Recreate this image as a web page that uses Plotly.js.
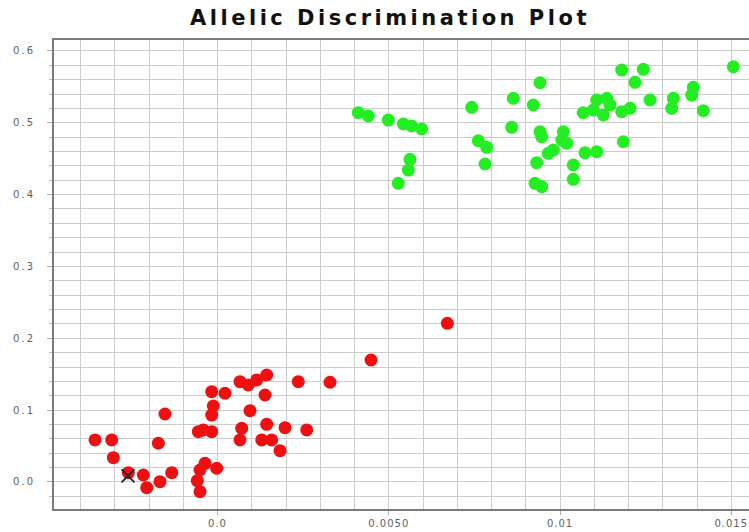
<!DOCTYPE html>
<html>
<head>
<meta charset="utf-8">
<script src="https://cdn.plot.ly/plotly-3.0.1.min.js"></script>
<style>
  html, body { margin: 0; padding: 0; overflow: hidden; background: #ffffff; }
  #chart { width: 772px; height: 532px; }
  .gtitle { letter-spacing: 3.5px; }
  .ytick text { letter-spacing: 2px; }
  .xtick text { letter-spacing: 1px; }
</style>
</head>
<body>
<div id="chart"></div>
<script>
// Allele 1 (red) cluster
const redX = [-0.003577, -0.003089, -0.003042, -0.002604, -0.002166, -0.002067, -0.001679, -0.001337,
  -0.001728, -0.001533, -0.000511, -0.000590, -0.000511, -0.000365, -0.000023, -0.000561, -0.000169,
  -0.000415, -0.000169, -0.000123, -0.000169, 0.000219, 0.000657, 0.000899, 0.001145, 0.001436,
  0.001387, 0.000949, 0.000707, 0.000657, 0.001436, 0.001291, 0.001582, 0.001825, 0.001971,
  0.002604, 0.002359, 0.003285, 0.004482, 0.006710];
const redY = [0.0585, 0.0585, 0.0338, 0.0129, 0.0097, -0.0079, 0.0004, 0.0129,
  0.0539, 0.0946, -0.0135, 0.0018, 0.0167, 0.0260, 0.0191, 0.0700, 0.0700,
  0.0724, 0.0932, 0.1058, 0.1257, 0.1235, 0.1396, 0.1350, 0.1420, 0.1489,
  0.1211, 0.0992, 0.0747, 0.0585, 0.0803, 0.0585, 0.0585, 0.0436, 0.0756,
  0.0724, 0.1396, 0.1388, 0.1698, 0.2209];

// Allele 2 (green) cluster
const greenX = [0.004111, 0.004403, 0.004987, 0.005425, 0.005670, 0.005962, 0.005620, 0.005571,
  0.005279, 0.007422, 0.007615, 0.007860, 0.007810, 0.008636, 0.009220, 0.008590, 0.009416,
  0.009416, 0.009466, 0.010096, 0.010050, 0.010196, 0.009804, 0.009658, 0.009320, 0.009270,
  0.009466, 0.010388, 0.010388, 0.010730, 0.011071, 0.010680, 0.010972, 0.011264, 0.011071,
  0.011364, 0.011460, 0.011801, 0.012044, 0.011848, 0.011801, 0.012432, 0.012190, 0.012628,
  0.013308, 0.013261, 0.013892, 0.013845, 0.014184, 0.015060];
const greenY = [0.5140, 0.5094, 0.5038, 0.4983, 0.4955, 0.4913, 0.4491, 0.4342,
  0.4157, 0.5215, 0.4750, 0.4658, 0.4426, 0.5340, 0.5247, 0.4937, 0.5557,
  0.4875, 0.4806, 0.4875, 0.4760, 0.4714, 0.4621, 0.4575, 0.4444, 0.4157,
  0.4110, 0.4412, 0.4213, 0.4583, 0.4597, 0.5140, 0.5177, 0.5108, 0.5317,
  0.5340, 0.5247, 0.5154, 0.5201, 0.4736, 0.5734, 0.5744, 0.5563, 0.5317,
  0.5340, 0.5201, 0.5493, 0.5386, 0.5168, 0.5780];

// No-template control
const ntcX = [-0.002613];
const ntcY = [0.0084];

// Axis ticks
const xTickVals = [0, 0.005, 0.01, 0.015];
const xTickText = ["0.0", "0.0050", "0.01", "0.015"];
const yTickVals = [0, 0.1, 0.2, 0.3, 0.4, 0.5, 0.6];
const yTickText = ["0.0", "0.1", "0.2", "0.3", "0.4", "0.5", "0.6"];

const traces = [
  { type: 'scatter', mode: 'markers', x: redX, y: redY,
    marker: { color: '#ee1010', size: 13, line: { width: 0 } }, hoverinfo: 'x+y' },
  { type: 'scatter', mode: 'markers', x: greenX, y: greenY,
    marker: { color: '#22ee22', size: 13, line: { width: 0 } }, hoverinfo: 'x+y' },
  { type: 'scatter', mode: 'markers', x: ntcX, y: ntcY,
    marker: { symbol: 'x-thin-open', color: '#222222', size: 13, line: { width: 1.8, color: '#222222' } } }
];

const gridCol = '#cccccc';
const layout = {
  width: 772, height: 532,
  margin: { l: 54, r: 2, t: 40, b: 23 },
  paper_bgcolor: '#ffffff', plot_bgcolor: '#ffffff',
  showlegend: false,
  title: {
    text: 'Allelic Discrimination Plot',
    font: { family: 'DejaVu Sans', size: 21, color: '#111111', weight: 'bold' },
    x: 390 / 772, xref: 'container', xanchor: 'center',
    y: 1 - 18 / 532, yref: 'container', yanchor: 'middle'
  },
  xaxis: {
    range: [-0.004774, 0.016131],
    tickmode: 'array', tickvals: xTickVals, ticktext: xTickText,
    ticks: 'outside', ticklen: 4, tickcolor: '#aaaaaa',
    showgrid: true, gridcolor: gridCol, gridwidth: 1,
    minor: { dtick: 0.001, tick0: 0, showgrid: true, gridcolor: gridCol, gridwidth: 1 },
    showline: true, linecolor: '#7a7a7a', linewidth: 2, mirror: true,
    zeroline: false,
    tickfont: { family: 'DejaVu Sans', size: 10, color: '#606060' }
  },
  yaxis: {
    range: [-0.0376, 0.6152],
    tickmode: 'array', tickvals: yTickVals, ticktext: yTickText,
    ticks: 'outside', ticklen: 5, tickcolor: '#aaaaaa',
    ticklabelstandoff: 10,
    showgrid: true, gridcolor: gridCol, gridwidth: 1,
    minor: { dtick: 0.02, tick0: 0, showgrid: true, gridcolor: gridCol, gridwidth: 1,
             ticks: 'outside', ticklen: 3, tickcolor: '#bbbbbb' },
    showline: true, linecolor: '#7a7a7a', linewidth: 2, mirror: true,
    zeroline: false,
    tickfont: { family: 'DejaVu Sans', size: 10, color: '#606060' }
  }
};

Plotly.newPlot('chart', traces, layout, { displayModeBar: false, staticPlot: true });
</script>
</body>
</html>
